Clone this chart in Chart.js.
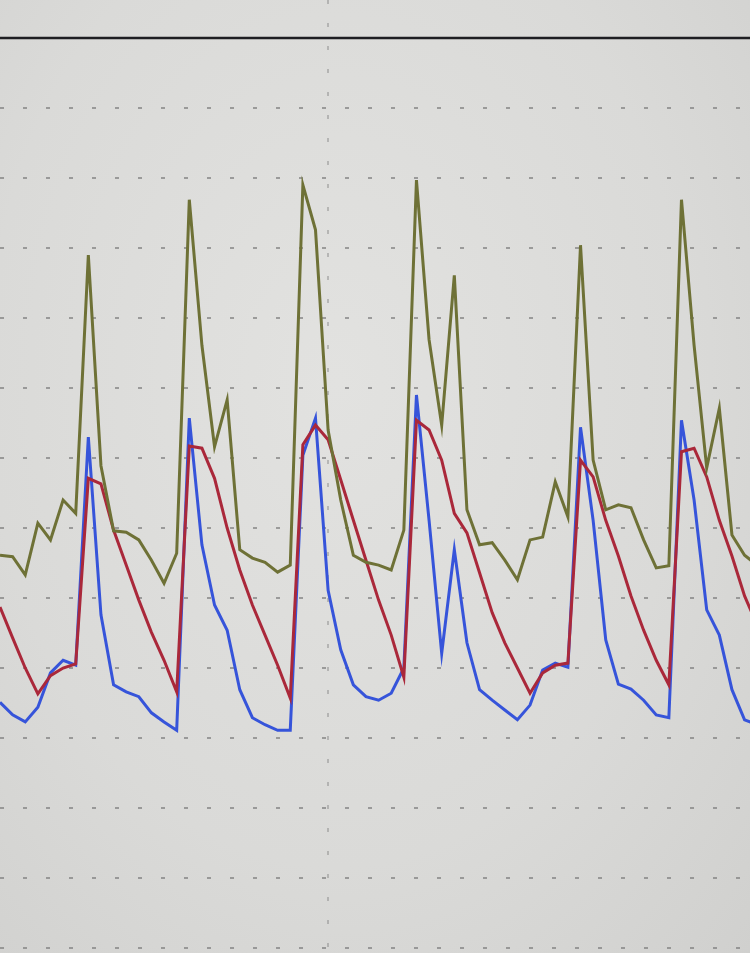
<!DOCTYPE html>
<html>
<head>
<meta charset="utf-8">
<script src="https://cdn.jsdelivr.net/npm/chart.js@4"></script>
<style>
  html, body { margin: 0; padding: 0; background: #dcdcda; }
  #wrap { position: relative; width: 750px; height: 953px; overflow: hidden;
          background: radial-gradient(ellipse at 45% 40%, #e2e2e0 0%, #dadad8 60%, #d0d0ce 100%); }
</style>
</head>
<body>
<div id="wrap"><canvas id="c"></canvas></div>
<script>
// sample index (equally spaced readings)
const samples = Array.from({length: 61}, (_, i) => i);

const oliveSeries = [56.1,55.9,53.3,60.7,58.3,64.0,62.1,99.0,68.9,59.6,
                     59.4,58.3,55.4,52.1,56.4,106.9,86.1,71.6,78.3,56.9,
                     55.7,55.1,53.7,54.7,109.0,102.6,74.0,64.0,56.1,55.1,
                     54.7,54.0,59.7,109.7,86.9,74.7,96.1,62.6,57.6,57.9,
                     55.4,52.6,58.3,58.7,66.6,61.6,100.4,69.7,62.6,63.3,
                     62.9,58.3,54.3,54.6,106.9,86.1,68.6,77.1,59.0,56.1,54.7];

const redSeries = [48.7,44.3,40.0,36.3,38.9,40.0,40.6,67.1,66.3,59.7,
                   54.7,49.7,45.1,41.1,36.6,71.7,71.4,67.1,60.0,54.0,
                   49.0,44.7,40.4,35.7,71.9,74.7,72.6,66.9,61.1,55.4,
                   49.7,44.7,38.7,75.4,74.0,69.7,62.1,59.3,53.6,47.9,
                   43.6,40.0,36.4,39.3,40.4,40.7,69.7,67.3,61.1,56.0,
                   50.3,45.4,41.1,37.6,70.9,71.4,67.3,61.1,56.0,50.3,46.1];

const blueSeries = [35.1,33.3,32.3,34.4,39.3,41.1,40.4,73.0,47.6,37.6,
                    36.6,35.9,33.6,32.3,31.1,75.7,57.6,49.0,45.4,36.9,
                    32.9,31.9,31.1,31.1,70.4,75.7,51.1,42.6,37.6,35.9,
                    35.4,36.4,40.0,79.0,61.1,42.1,56.9,43.6,36.9,35.4,
                    34.0,32.6,34.7,39.7,40.7,40.1,74.4,61.1,44.0,37.7,
                    37.0,35.4,33.3,32.9,75.4,64.0,48.3,44.7,36.9,32.6,31.9];

const yGridValues = [0,10,20,30,40,50,60,70,80,90,100,110,120];
const topRuleValue = 130;
const xGridValues = [26];

const toPts = arr => arr.map((v, i) => ({x: samples[i], y: v}));

const topRule = {
  id: 'topRule',
  beforeDatasetsDraw(chart) {
    const {ctx, scales: {y}} = chart;
    const py = y.getPixelForValue(topRuleValue);
    ctx.save();
    ctx.strokeStyle = '#1e1e22';
    ctx.lineWidth = 2.5;
    ctx.beginPath();
    ctx.moveTo(0, py);
    ctx.lineTo(chart.width, py);
    ctx.stroke();
    ctx.restore();
  }
};

new Chart(document.getElementById('c'), {
  type: 'line',
  data: {
    datasets: [
      { data: toPts(oliveSeries), borderColor: '#6e7136', borderWidth: 3, pointRadius: 0, tension: 0 },
      { data: toPts(redSeries), borderColor: '#aa283a', borderWidth: 3, pointRadius: 0, tension: 0 },
      { data: toPts(blueSeries), borderColor: '#3654da', borderWidth: 3, pointRadius: 0, tension: 0 }
    ]
  },
  options: {
    responsive: true,
    maintainAspectRatio: false,
    animation: false,
    layout: { padding: 0 },
    plugins: { legend: { display: false }, tooltip: { enabled: false } },
    scales: {
      x: {
        type: 'linear',
        min: 0,
        max: 59.43,
        afterBuildTicks: s => { s.ticks = xGridValues.map(v => ({value: v})); },
        ticks: { display: false },
        grid: { color: 'rgba(120,120,120,0.4)', lineWidth: 2, drawTicks: false },
        border: { display: false, dash: [4, 19] }
      },
      y: {
        type: 'linear',
        min: -0.714,
        max: 135.43,
        afterBuildTicks: s => { s.ticks = yGridValues.map(v => ({value: v})); },
        ticks: { display: false },
        grid: { color: 'rgba(125,125,125,0.7)', lineWidth: 2, drawTicks: false },
        border: { display: false, dash: [4, 19] }
      }
    }
  },
  plugins: [topRule]
});
</script>
</body>
</html>
